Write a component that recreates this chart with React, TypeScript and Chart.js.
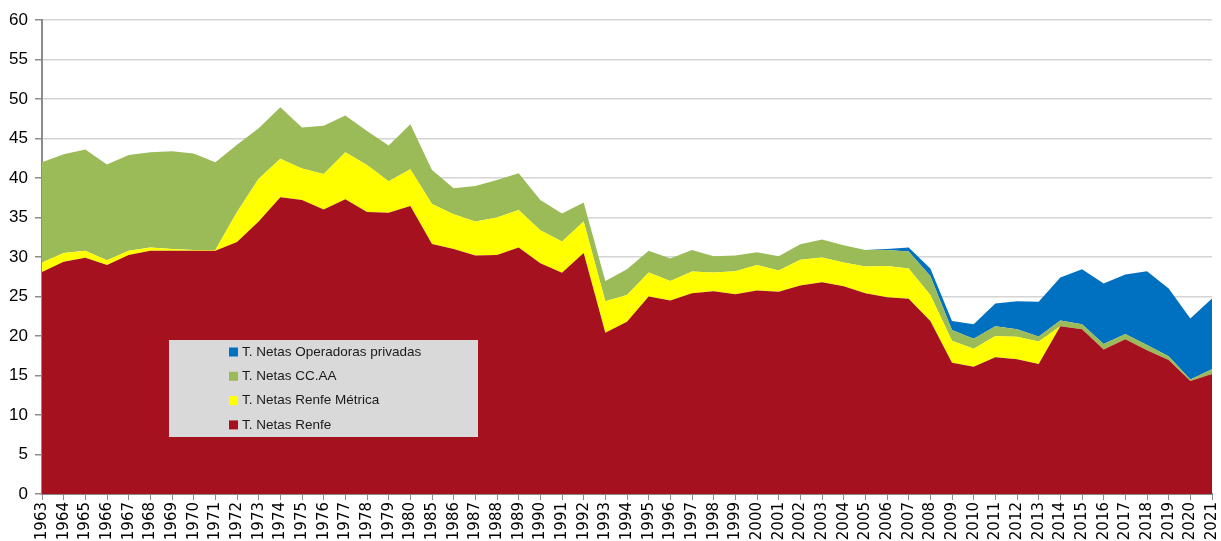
import React, { useEffect, useRef } from "react";
import { Chart, registerables } from "chart.js";

Chart.register(...registerables);

const years = [
  "1963","1964","1965","1966","1967","1968","1969","1970","1971","1972","1973","1974","1975","1976","1977","1978","1979","1980",
  "1985","1986","1987","1988","1989","1990","1991","1992","1993","1994","1995","1996","1997","1998","1999","2000","2001","2002",
  "2003","2004","2005","2006","2007","2008","2009","2010","2011","2012","2013","2014","2015","2016","2017","2018","2019","2020","2021",
];

const renfe = [
  28.1, 29.4, 29.9, 29.0, 30.25, 30.8, 30.8, 30.8, 30.8, 31.9, 34.5, 37.55, 37.2, 36.0, 37.3, 35.7, 35.6, 36.45,
  31.65, 31.0, 30.2, 30.25, 31.2, 29.2, 28.0, 30.5, 20.4, 21.8, 25.0, 24.5, 25.4, 25.65, 25.3, 25.75, 25.6, 26.4,
  26.8, 26.3, 25.4, 24.9, 24.7, 21.9, 16.6, 16.1, 17.3, 17.05, 16.45, 21.25, 20.85, 18.3, 19.6, 18.2, 16.95, 14.3, 15.2,
];

const renfeMetrica = [
  1.2, 1.1, 0.9, 0.6, 0.55, 0.4, 0.2, 0.1, 0.1, 3.8, 5.4, 4.9, 4.0, 4.5, 5.95, 5.95, 4.0, 4.65,
  5.05, 4.4, 4.3, 4.75, 4.75, 4.2, 3.95, 4.0, 4.0, 3.4, 3.05, 2.45, 2.75, 2.4, 2.9, 3.25, 2.7, 3.25,
  3.15, 3.0, 3.4, 3.95, 3.85, 3.3, 2.8, 2.3, 2.7, 2.85, 2.85, 0, 0, 0, 0, 0, 0, 0, 0,
];

const ccaa = [
  12.7, 12.5, 12.8, 12.1, 12.1, 12.05, 12.4, 12.2, 11.1, 8.5, 6.4, 6.5, 5.2, 6.1, 4.65, 4.3, 4.5, 5.7,
  4.3, 3.3, 4.5, 4.75, 4.65, 3.8, 3.55, 2.4, 2.55, 3.25, 2.75, 2.85, 2.75, 2.05, 2.0, 1.6, 1.8, 1.95,
  2.25, 2.2, 2.1, 2.05, 2.15, 2.4, 1.35, 1.25, 1.25, 0.95, 0.65, 0.7, 0.65, 0.7, 0.65, 0.65, 0.5, 0.2, 0.6,
];

const privadas = [
  0, 0, 0, 0, 0, 0, 0, 0, 0, 0, 0, 0, 0, 0, 0, 0, 0, 0,
  0, 0, 0, 0, 0, 0, 0, 0, 0, 0, 0, 0, 0, 0, 0, 0, 0, 0,
  0, 0, 0, 0.1, 0.5, 0.95, 1.15, 1.85, 2.85, 3.55, 4.4, 5.45, 6.95, 7.65, 7.55, 9.35, 8.55, 7.7, 8.95,
];

const yTicks = [0, 5, 10, 15, 20, 25, 30, 35, 40, 45, 50, 55, 60];

const seriesLabels = [
  "T. Netas Renfe",
  "T. Netas Renfe Métrica",
  "T. Netas CC.AA",
  "T. Netas Operadoras privadas",
];
const seriesColors = ["#A5111E", "#FFFF00", "#9BBB59", "#0070C0"];

const legendPlugin = {
  id: "boxLegend",
  afterDraw(chart: any) {
    const ctx = chart.ctx;
    const area = chart.chartArea;
    const bx = area.left + 127;
    const by = area.top + 320;
    const bw = 309;
    const bh = 97;
    ctx.save();
    ctx.fillStyle = "#D9D9D9";
    ctx.fillRect(bx, by, bw, bh);
    ctx.font = "13.5px 'Liberation Sans'";
    ctx.textBaseline = "middle";
    ctx.textAlign = "left";
    const ds = chart.data.datasets;
    for (let k = 0; k < ds.length; k++) {
      const d = ds[ds.length - 1 - k];
      const cy = by + 12 + k * 24.3;
      ctx.fillStyle = d.backgroundColor;
      ctx.fillRect(bx + 60, cy - 4.5, 9, 9);
      ctx.fillStyle = "#1a1a1a";
      ctx.fillText(d.label, bx + 73, cy);
    }
    ctx.restore();
  },
};

export default function App() {
  const ref = useRef<HTMLCanvasElement | null>(null);
  useEffect(() => {
    if (!ref.current) return;
    const data = [renfe, renfeMetrica, ccaa, privadas];
    const chart = new Chart(ref.current, {
      type: "line",
      data: {
        labels: years,
        datasets: data.map((vals, i) => ({
          label: seriesLabels[i],
          data: vals,
          backgroundColor: seriesColors[i],
          borderColor: seriesColors[i],
          borderWidth: 0,
          pointRadius: 0,
          tension: 0,
          fill: i === 0 ? "origin" : "-1",
        })),
      },
      options: {
        animation: false,
        responsive: false,
        maintainAspectRatio: false,
        layout: { padding: { top: 20, right: 9, left: 0, bottom: 0 } },
        plugins: {
          legend: { display: false },
          tooltip: { enabled: false },
        },
        scales: {
          x: {
            offset: false,
            grid: {
              drawOnChartArea: false,
              drawTicks: true,
              tickLength: 6,
              tickColor: "#8C8C8C",
              lineWidth: 1,
            },
            border: { color: "#8C8C8C", width: 2 },
            ticks: {
              autoSkip: false,
              minRotation: 90,
              maxRotation: 90,
              padding: 2,
              color: "#000",
              font: { family: "'DejaVu Sans'", size: 15 },
            },
            afterFit(scale: any) {
              scale.height = 47;
              scale.paddingLeft = 0;
              scale.paddingRight = 0;
            },
          },
          y: {
            stacked: true,
            min: 0,
            max: 60,
            afterBuildTicks(scale: any) {
              scale.ticks = yTicks.map((v) => ({ value: v }));
            },
            grid: {
              color: "#D4D4D4",
              lineWidth: 1.5,
              drawTicks: true,
              tickLength: 7,
              tickColor: "#8C8C8C",
            },
            border: { color: "#8C8C8C", width: 2 },
            ticks: {
              padding: 7,
              color: "#000",
              font: { family: "'Liberation Sans'", size: 17 },
            },
            afterFit(scale: any) {
              scale.width = 42;
              scale.paddingTop = 0;
              scale.paddingBottom = 0;
            },
          },
        },
      },
      plugins: [legendPlugin],
    });
    return () => chart.destroy();
  }, []);
  return (
    <div style={{ position: "fixed", left: 0, top: 0, width: 1221, height: 541, background: "#fff" }}>
      <canvas ref={ref} width={1221} height={541} style={{ display: "block" }} />
    </div>
  );
}
